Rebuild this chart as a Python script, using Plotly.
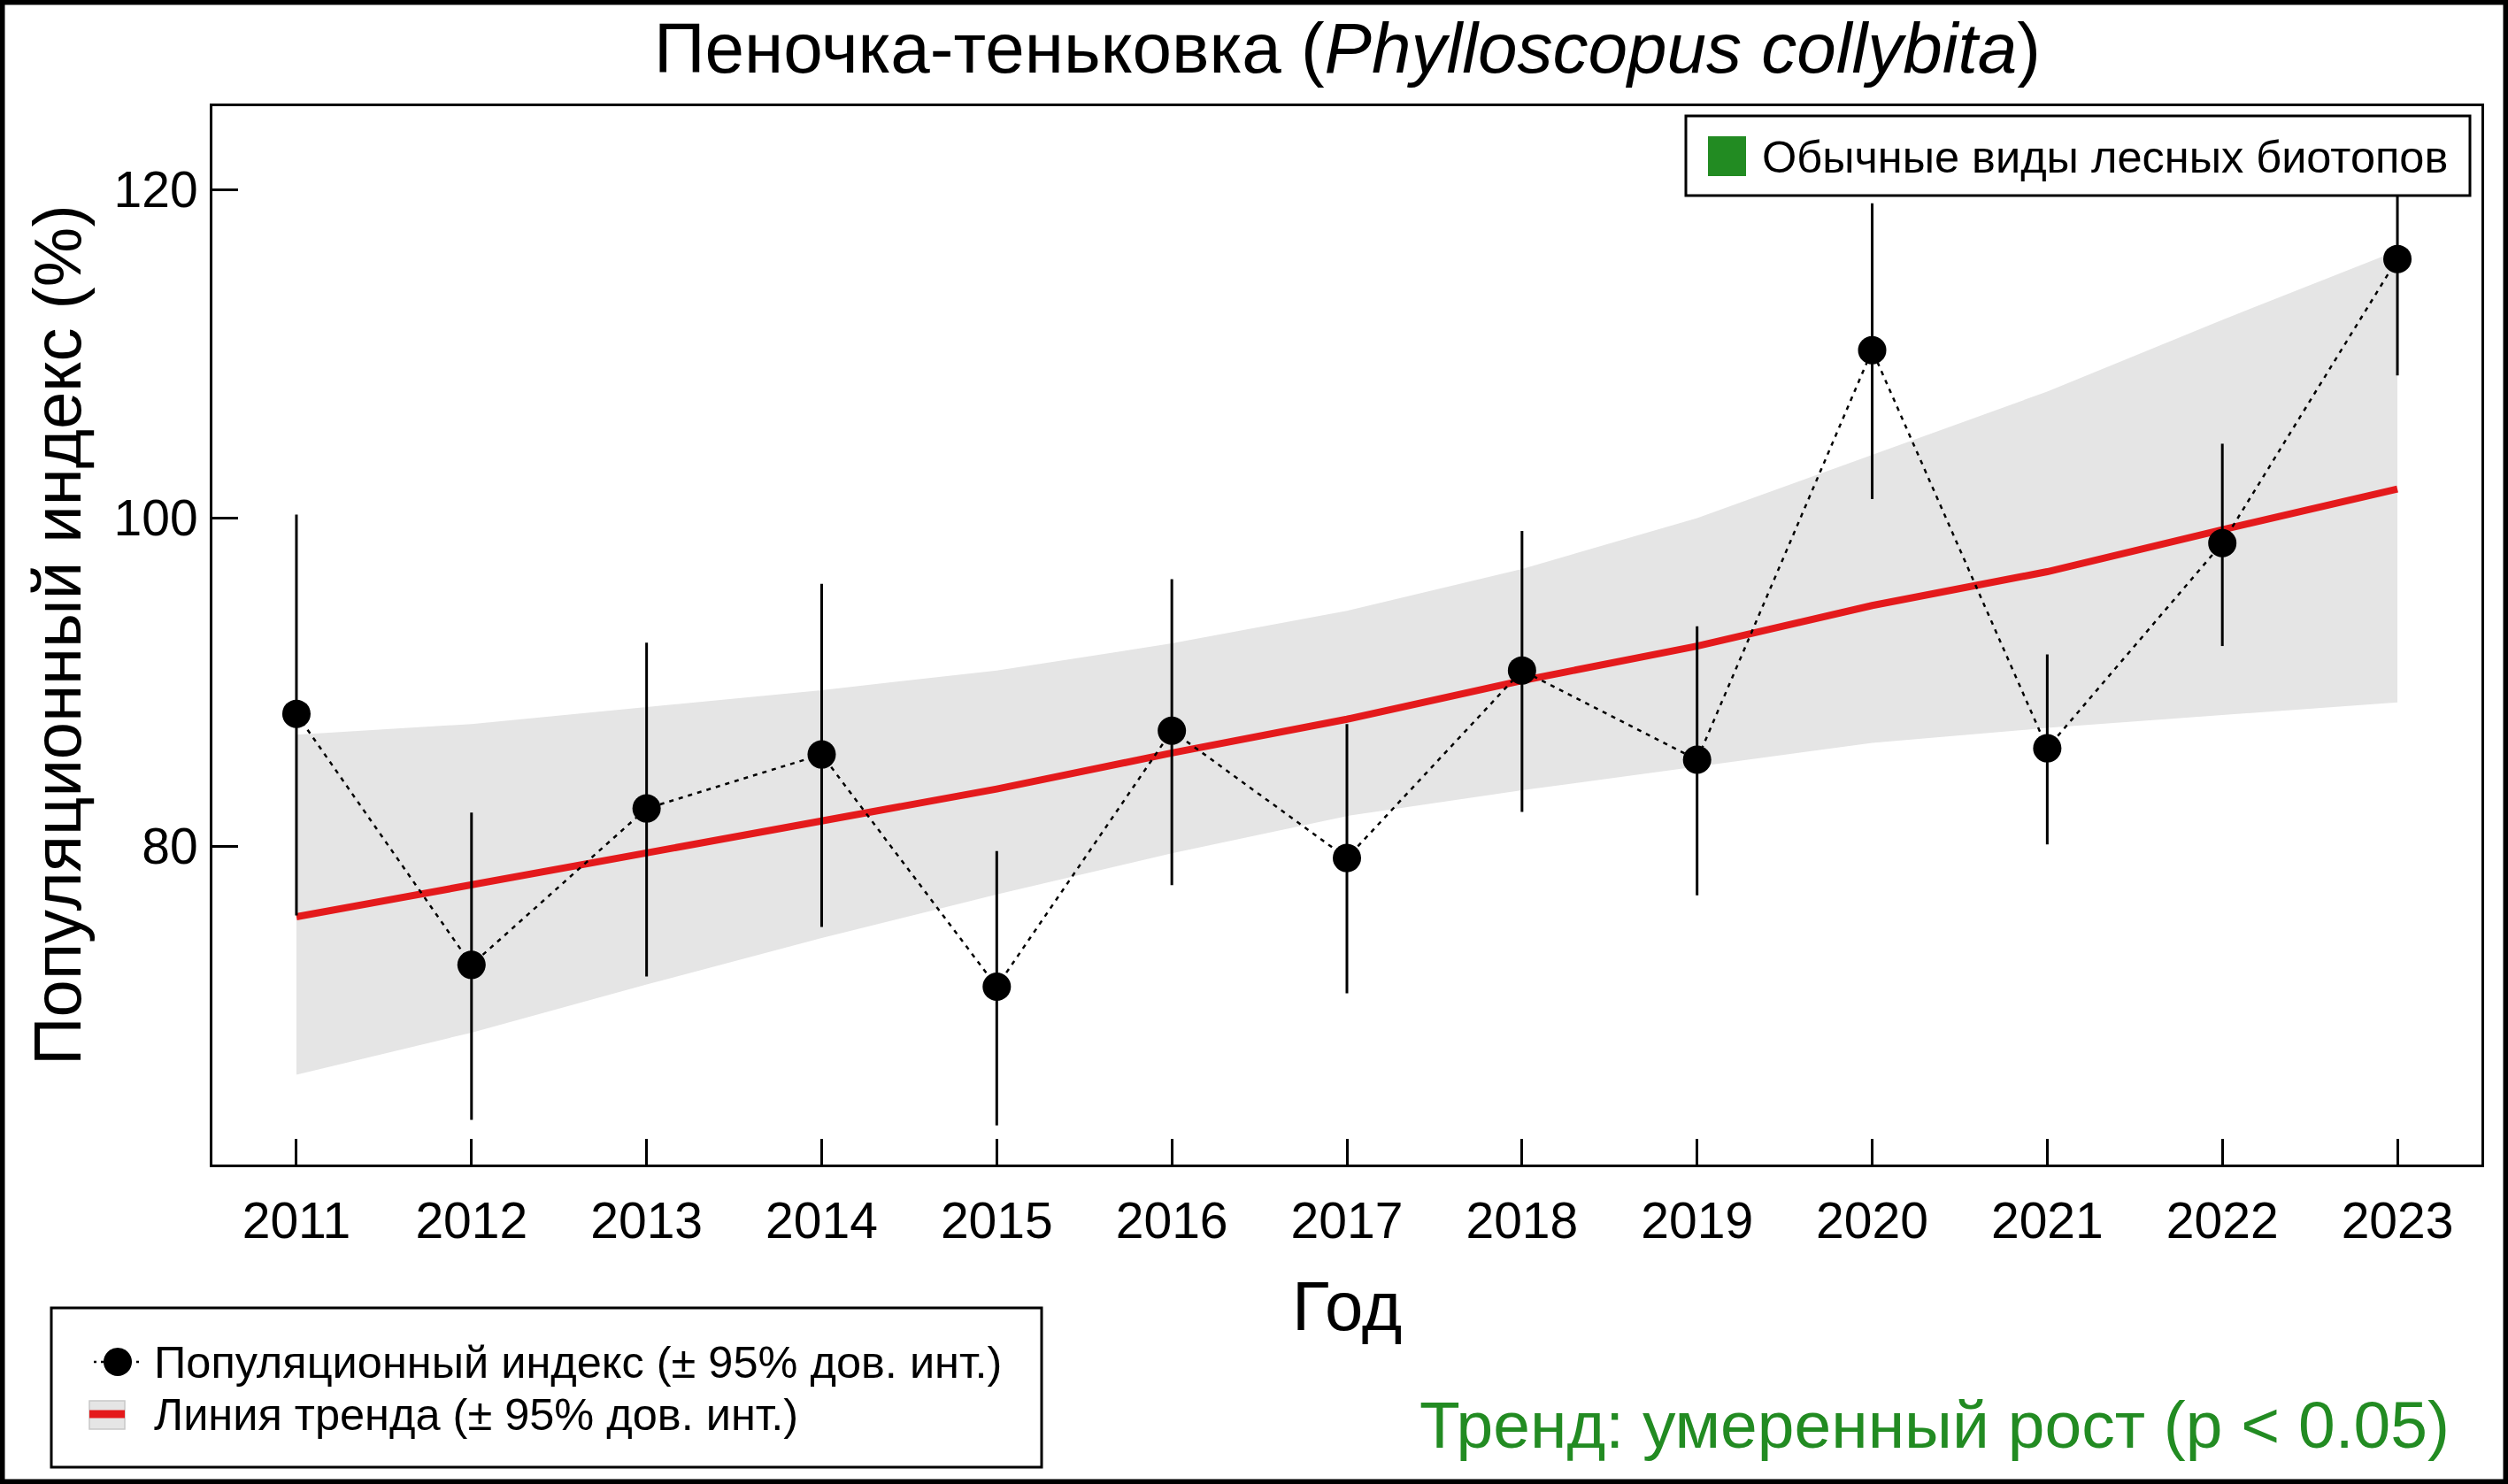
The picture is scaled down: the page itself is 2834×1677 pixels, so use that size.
import plotly.graph_objects as go

# ---------------- data ----------------
years = list(range(2011, 2024))
year_labels = [str(y) for y in years]
index_vals = [88.06, 72.76, 82.29, 85.58, 71.43, 87.03, 79.27, 90.70, 85.26, 110.22, 85.96, 98.46, 115.78]
ci_upper = [100.2, 82.04, 92.39, 95.98, 79.69, 96.27, 87.44, 99.2, 93.39, 119.17, 91.68, 104.52, 122.7]
ci_lower = [75.77, 63.31, 72.05, 75.07, 62.98, 77.62, 71.02, 82.08, 77.0, 101.14, 80.1, 92.19, 108.68]
trend_vals = [75.69, 77.63, 79.56, 81.46, 83.48, 85.67, 87.73, 90.08, 92.19, 94.66, 96.72, 99.28, 101.76]
trend_upper = [86.78, 87.44, 88.47, 89.5, 90.7, 92.35, 94.34, 96.89, 99.98, 103.82, 107.7, 112.07, 116.28]
trend_lower = [66.07, 68.63, 71.56, 74.4, 77.05, 79.56, 81.83, 83.4, 84.84, 86.29, 87.2, 88.0, 88.76]
y_ticks = [80, 100, 120]

title_main = "Пеночка-теньковка ("
title_species = "Phylloscopus collybita"
x_title = "Год"
y_title = "Популяционный индекс (%)"
legend_index = "Популяционный индекс (± 95% дов. инт.)"
legend_trend = "Линия тренда (± 95% дов. инт.)"
group_label = "Обычные виды лесных биотопов"
trend_text = "Тренд: умеренный рост (p < 0.05)"

# ---------------- geometry ----------------
W, H = 2834, 1677
L, R, T, B = 240, 30, 120, 361
PW, PH = W - L - R, H - T - B
FONT = "Liberation Sans, Arial, sans-serif"
GREEN = "#228B22"
RED = "#E41A1C"
BAND = "#E5E5E5"


def px(x):
    return (x - L) / PW


def py(y):
    return (H - B - y) / PH


err_plus = [u - v for u, v in zip(ci_upper, index_vals)]
err_minus = [v - l for v, l in zip(index_vals, ci_lower)]

fig = go.Figure()

# trend confidence band
fig.add_trace(go.Scatter(
    x=years + years[::-1],
    y=trend_upper + trend_lower[::-1],
    fill="toself", fillcolor=BAND, line=dict(width=0),
    mode="lines", hoverinfo="skip", showlegend=False))

# trend line
fig.add_trace(go.Scatter(
    x=years, y=trend_vals, mode="lines",
    line=dict(color=RED, width=8), showlegend=False))

# dotted connecting line
fig.add_trace(go.Scatter(
    x=years, y=index_vals, mode="lines",
    line=dict(color="black", width=2.5, dash="5px,6px"), showlegend=False))

# points with 95% CI
fig.add_trace(go.Scatter(
    x=years, y=index_vals, mode="markers",
    marker=dict(color="black", size=32, line=dict(width=0)),
    error_y=dict(type="data", array=err_plus, arrayminus=err_minus,
                 color="black", thickness=3, width=0),
    showlegend=False))

shapes = []
# outer frame
shapes.append(dict(type="rect", xref="paper", yref="paper",
                   x0=px(0), x1=px(W), y0=py(H), y1=py(0),
                   line=dict(color="black", width=11), fillcolor="rgba(0,0,0,0)", layer="above"))

# bottom-left legend
shapes.append(dict(type="rect", xref="paper", yref="paper",
                   x0=px(58), x1=px(1177), y0=py(1658), y1=py(1478),
                   line=dict(color="black", width=3), fillcolor="white", layer="above"))
shapes.append(dict(type="line", xref="paper", yref="paper",
                   x0=px(106), x1=px(160), y0=py(1539), y1=py(1539),
                   line=dict(color="black", width=2.5, dash="3px,5px"), layer="above"))
shapes.append(dict(type="circle", xref="paper", yref="paper",
                   x0=px(117), x1=px(149), y0=py(1555), y1=py(1523),
                   line=dict(width=0), fillcolor="black", layer="above"))
shapes.append(dict(type="rect", xref="paper", yref="paper",
                   x0=px(101), x1=px(141), y0=py(1615), y1=py(1583),
                   line=dict(color="#C8C8C8", width=1.5), fillcolor=BAND, layer="above"))
shapes.append(dict(type="line", xref="paper", yref="paper",
                   x0=px(101), x1=px(141), y0=py(1598), y1=py(1598),
                   line=dict(color=RED, width=9), layer="above"))

# top-right group legend
shapes.append(dict(type="rect", xref="paper", yref="paper",
                   x0=px(1905), x1=px(2791), y0=py(221), y1=py(131),
                   line=dict(color="black", width=3), fillcolor="white", layer="above"))
shapes.append(dict(type="rect", xref="paper", yref="paper",
                   x0=px(1930), x1=px(1973), y0=py(199), y1=py(154),
                   line=dict(width=0), fillcolor=GREEN, layer="above"))

annotations = [
    dict(text=title_main + "<i>" + title_species + "</i>)", x=0.5, y=py(54.5),
         xref="paper", yref="paper", xanchor="center", yanchor="middle",
         showarrow=False, font=dict(size=80, color="black", family=FONT)),
    dict(text=x_title, x=0.5, y=py(1476), xref="paper", yref="paper",
         xanchor="center", yanchor="middle", showarrow=False,
         font=dict(size=78, color="black", family=FONT)),
    dict(text=y_title, x=px(64), y=0.5, xref="paper", yref="paper",
         xanchor="center", yanchor="middle", textangle=-90, showarrow=False,
         font=dict(size=76, color="black", family=FONT)),
    dict(text=legend_index, x=px(172), y=py(1539), xref="paper", yref="paper",
         xanchor="left", yanchor="middle", showarrow=False,
         font=dict(size=50.5, color="black", family=FONT)),
    dict(text=legend_trend, x=px(172), y=py(1598), xref="paper", yref="paper",
         xanchor="left", yanchor="middle", showarrow=False,
         font=dict(size=50.5, color="black", family=FONT)),
    dict(text=group_label, x=px(1989), y=py(177), xref="paper", yref="paper",
         xanchor="left", yanchor="middle", showarrow=False,
         font=dict(size=50.5, color="black", family=FONT)),
    dict(text=trend_text, x=px(2770), y=py(1610), xref="paper", yref="paper",
         xanchor="right", yanchor="middle", showarrow=False,
         font=dict(size=75, color=GREEN, family=FONT)),
]

fig.update_layout(
    width=W, height=H,
    margin=dict(l=L, r=R, t=T, b=B, pad=0),
    paper_bgcolor="white", plot_bgcolor="white",
    showlegend=False,
    font=dict(family=FONT, color="black"),
    shapes=shapes,
    annotations=annotations,
    xaxis=dict(range=[2010.52, 2023.48], tickmode="array", tickvals=years,
               ticktext=year_labels, ticks="inside", ticklen=29, tickwidth=3,
               tickcolor="black", showline=True, linecolor="black", linewidth=3,
               mirror=True, showgrid=False, zeroline=False,
               tickfont=dict(size=57, family=FONT, color="black"),
               ticklabelstandoff=12),
    yaxis=dict(range=[60.59, 125.09], tickmode="array", tickvals=y_ticks,
               ticks="inside", ticklen=29, tickwidth=3, tickcolor="black",
               showline=True, linecolor="black", linewidth=3, mirror=True,
               showgrid=False, zeroline=False,
               tickfont=dict(size=57, family=FONT, color="black"),
               ticklabelstandoff=2),
)

fig.write_html(
    "out.html",
    config={"displayModeBar": False},
    post_script="document.body.style.margin='0';document.body.style.padding='0';"
                "document.documentElement.style.overflow='hidden';",
)
